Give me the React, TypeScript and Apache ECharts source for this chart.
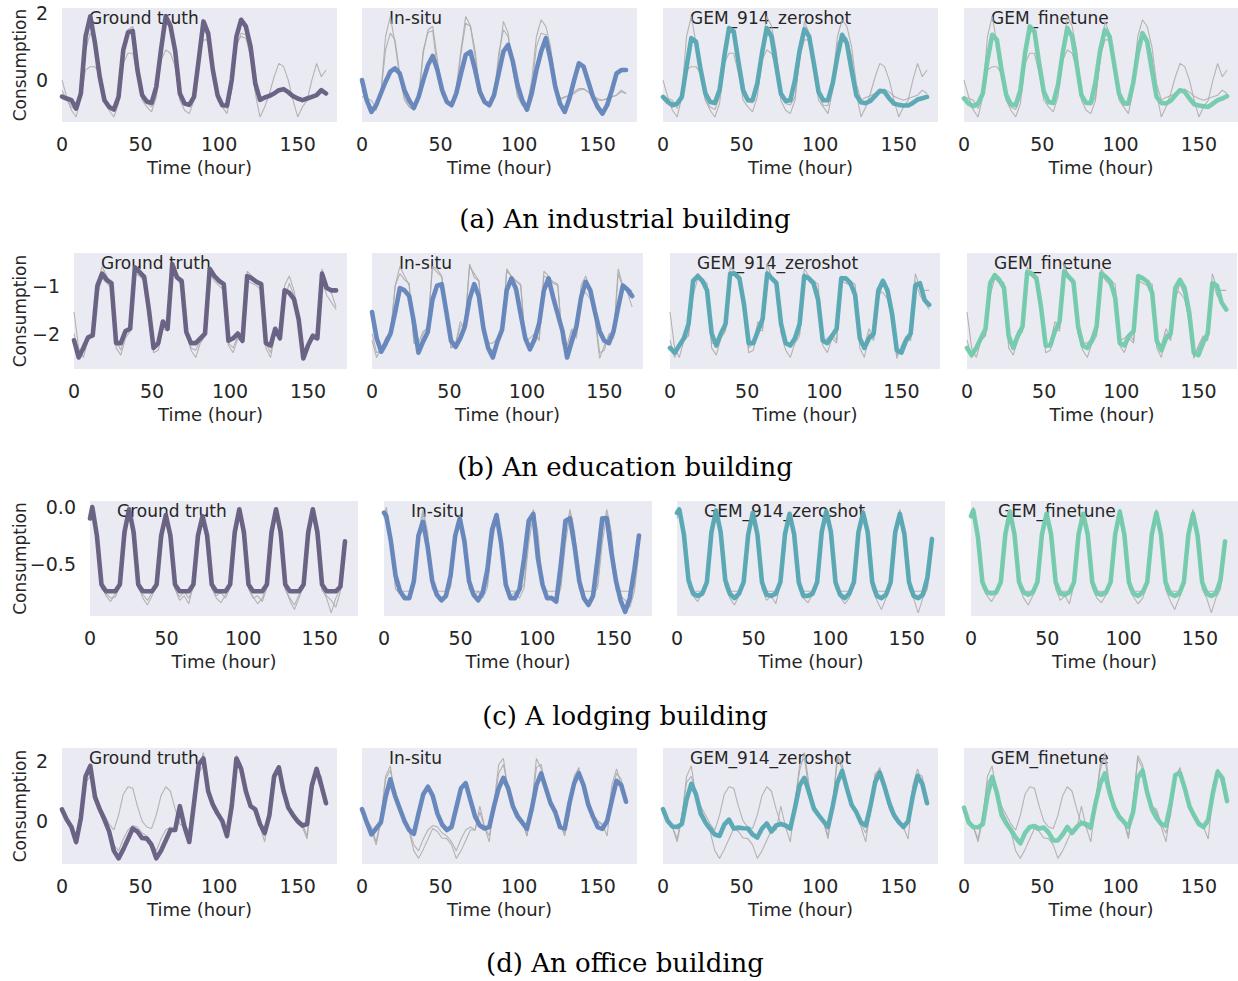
import React, { useEffect, useRef } from "react";
import * as echarts from "echarts";

// ---------- time index (hours) ----------
const HOURS = [0,3,6,9,12,15,18,21,24,27,30,33,36,39,42,45,48,51,54,57,60,63,66,69,72,75,78,81,84,87,90,93,96,99,102,105,108,111,114,117,120,123,126,129,132,135,138,141,144,147,150,153,156,159,162,165,168];
const HOURS_C = [0,1.5,4.5,7.5,10.5,13.5,16.5,19.5,22.5,25.5,28.5,31.5,34.5,37.5,40.5,43.5,46.5,49.5,52.5,55.5,58.5,61.5,64.5,67.5,70.5,73.5,76.5,79.5,82.5,85.5,88.5,91.5,94.5,97.5,100.5,103.5,106.5,109.5,112.5,115.5,118.5,121.5,124.5,127.5,130.5,133.5,136.5,139.5,142.5,145.5,148.5,151.5,154.5,157.5,160.5,163.5,166.5];

// ---------- (a) industrial ----------
const A_GT = [-0.49,-0.55,-0.6,-0.85,-0.4,1.3,1.9,1.1,0.1,-0.6,-0.8,-0.88,-0.5,0.9,1.42,1.47,0.3,-0.45,-0.64,-0.68,-0.2,0.9,1.9,1.62,0.88,-0.4,-0.7,-0.74,-0.5,0.6,1.75,1.4,0.3,-0.45,-0.75,-0.76,0.0,1.3,1.8,1.6,1.0,-0.1,-0.59,-0.52,-0.47,-0.4,-0.3,-0.27,-0.36,-0.48,-0.55,-0.6,-0.55,-0.5,-0.45,-0.3,-0.4];
const A_IN = [0.0,-0.6,-0.95,-0.75,-0.4,-0.05,0.25,0.35,0.2,-0.3,-0.6,-0.83,-0.5,0.0,0.45,0.72,0.3,-0.3,-0.65,-0.75,-0.4,0.2,0.75,0.85,0.3,-0.35,-0.65,-0.75,-0.45,0.2,0.85,1.05,0.55,-0.15,-0.6,-0.88,-0.4,0.3,0.85,1.25,0.6,-0.2,-0.7,-0.95,-0.55,0.0,0.5,0.4,-0.05,-0.5,-0.8,-1.0,-0.75,-0.3,0.2,0.3,0.3];
const A_ZS = [-0.5,-0.65,-0.75,-0.7,-0.5,0.4,1.25,1.15,0.3,-0.4,-0.65,-0.68,-0.3,0.7,1.55,1.45,0.55,-0.3,-0.6,-0.6,-0.1,0.8,1.55,1.3,0.45,-0.4,-0.62,-0.6,0.0,0.9,1.52,1.3,0.5,-0.35,-0.6,-0.6,-0.1,0.7,1.35,1.1,0.3,-0.45,-0.66,-0.69,-0.62,-0.47,-0.32,-0.35,-0.55,-0.7,-0.74,-0.76,-0.76,-0.68,-0.58,-0.54,-0.5];
const A_FT = [-0.55,-0.7,-0.78,-0.7,-0.4,0.6,1.35,1.2,0.3,-0.45,-0.72,-0.75,-0.3,0.8,1.6,1.45,0.5,-0.35,-0.65,-0.68,-0.15,0.8,1.55,1.3,0.45,-0.45,-0.68,-0.68,-0.05,0.9,1.5,1.3,0.45,-0.4,-0.68,-0.7,-0.1,0.8,1.4,1.15,0.3,-0.5,-0.68,-0.7,-0.62,-0.45,-0.3,-0.35,-0.55,-0.72,-0.76,-0.78,-0.8,-0.7,-0.6,-0.55,-0.48];
const A_G1 = [0.0,-0.5,-0.9,-1.1,-0.5,0.3,0.4,0.4,0.2,-0.6,-0.9,-1.1,-0.7,0.5,0.8,0.8,0.2,-0.6,-0.8,-0.95,-0.5,0.6,0.9,0.8,0.4,-0.6,-0.9,-1.0,-0.6,0.7,1.2,1.2,0.3,-0.6,-0.8,-1.0,-0.3,1.1,1.3,1.25,0.7,-0.4,-1.1,-0.8,-0.4,0.1,0.5,0.4,0.0,-0.6,-1.1,-0.8,-0.6,0.0,0.5,0.1,0.3];
const A_G2 = [-0.3,-0.6,-0.8,-0.9,-0.4,0.9,1.4,1.2,0.2,-0.5,-0.8,-0.9,-0.6,0.8,1.5,1.6,0.6,-0.4,-0.7,-0.8,-0.5,0.8,1.7,1.6,0.7,-0.4,-0.7,-0.8,-0.5,0.8,1.5,1.3,0.3,-0.5,-0.75,-0.85,-0.3,1.0,1.4,1.35,0.7,-0.2,-0.55,-0.5,-0.45,-0.35,-0.25,-0.25,-0.35,-0.5,-0.6,-0.6,-0.55,-0.5,-0.45,-0.35,-0.4];

// ---------- (b) education ----------
const B_GT = [-2.14,-2.5,-2.3,-2.08,-2.04,-1.0,-0.75,-0.88,-0.95,-2.2,-2.2,-1.95,-1.9,-0.62,-0.72,-0.82,-1.5,-2.3,-2.2,-1.75,-1.9,-0.55,-0.83,-0.9,-1.97,-2.2,-2.2,-2.1,-2.0,-0.65,-0.8,-0.9,-0.97,-2.15,-2.1,-2.0,-2.15,-0.8,-0.85,-0.92,-0.97,-2.2,-2.25,-1.9,-2.1,-1.1,-1.15,-1.28,-1.7,-2.52,-2.25,-2.05,-2.1,-0.75,-1.05,-1.1,-1.1];
const B_IN = [-1.55,-2.1,-2.38,-2.2,-2.0,-1.55,-1.05,-1.1,-1.22,-1.75,-2.4,-2.17,-1.97,-1.3,-1.0,-0.97,-1.55,-2.15,-2.28,-2.1,-1.85,-1.28,-0.97,-1.22,-1.9,-2.3,-2.5,-2.17,-1.92,-1.1,-0.85,-1.07,-1.6,-2.1,-2.33,-2.12,-1.78,-1.1,-0.85,-1.25,-1.6,-1.95,-2.5,-2.17,-1.85,-1.25,-0.92,-1.1,-1.55,-1.95,-2.15,-2.2,-1.95,-1.45,-1.0,-1.08,-1.22];
const B_ZS = [-2.3,-2.4,-2.25,-2.1,-1.8,-0.9,-0.8,-0.9,-1.1,-2.0,-2.25,-2.0,-1.8,-0.75,-0.75,-0.85,-1.4,-2.2,-2.2,-1.95,-1.7,-0.75,-0.85,-0.95,-1.8,-2.2,-2.25,-2.1,-1.8,-0.8,-0.85,-0.95,-1.3,-2.15,-2.2,-2.05,-1.9,-0.85,-0.85,-0.95,-1.2,-2.1,-2.3,-2.1,-2.0,-1.1,-0.9,-1.1,-1.6,-2.35,-2.4,-2.15,-2.0,-1.0,-0.95,-1.3,-1.4];
const B_FT = [-2.3,-2.45,-2.3,-2.1,-1.9,-0.95,-0.78,-0.88,-1.05,-2.05,-2.3,-2.05,-1.85,-0.72,-0.75,-0.85,-1.45,-2.25,-2.25,-1.95,-1.75,-0.7,-0.82,-0.92,-1.85,-2.25,-2.3,-2.15,-1.85,-0.75,-0.82,-0.92,-1.25,-2.2,-2.25,-2.05,-1.95,-0.8,-0.85,-0.92,-1.15,-2.15,-2.35,-2.1,-2.0,-1.05,-0.88,-1.05,-1.55,-2.4,-2.45,-2.2,-2.0,-0.95,-1.0,-1.35,-1.5];
const B_G1 = [-1.55,-2.3,-2.5,-2.15,-2.05,-1.2,-0.85,-0.95,-1.05,-2.3,-2.45,-2.1,-1.95,-0.75,-0.8,-0.9,-1.6,-2.4,-2.35,-1.9,-1.95,-0.7,-0.85,-1.0,-2.0,-2.35,-2.5,-2.2,-2.05,-0.75,-0.9,-1.0,-1.1,-2.25,-2.4,-2.1,-2.2,-0.9,-0.95,-1.0,-1.1,-2.3,-2.5,-2.0,-2.15,-1.3,-0.95,-1.2,-1.8,-2.45,-2.3,-2.1,-2.15,-0.9,-1.2,-1.35,-1.5];
const B_G2 = [-2.0,-2.4,-2.35,-2.1,-1.95,-1.0,-0.6,-0.8,-1.0,-2.15,-2.35,-2.0,-1.85,-0.6,-0.65,-0.8,-1.5,-2.3,-2.25,-1.85,-1.8,-0.6,-0.75,-0.9,-1.9,-2.3,-2.35,-2.15,-1.95,-0.7,-0.8,-0.9,-1.0,-2.2,-2.3,-2.05,-2.1,-0.7,-0.8,-0.95,-1.0,-2.2,-2.4,-1.95,-2.05,-1.0,-0.8,-1.1,-1.6,-2.4,-2.35,-2.0,-2.05,-0.65,-1.0,-1.15,-1.45];

// ---------- (c) lodging ----------
const C_GT = [-0.1,0.0,-0.25,-0.68,-0.74,-0.74,-0.74,-0.68,-0.22,-0.02,-0.22,-0.68,-0.74,-0.74,-0.74,-0.68,-0.25,-0.07,-0.25,-0.68,-0.74,-0.74,-0.74,-0.68,-0.25,-0.08,-0.25,-0.68,-0.74,-0.74,-0.74,-0.68,-0.22,-0.02,-0.22,-0.68,-0.74,-0.74,-0.74,-0.68,-0.22,-0.02,-0.22,-0.68,-0.74,-0.74,-0.74,-0.68,-0.22,-0.02,-0.22,-0.68,-0.74,-0.74,-0.74,-0.7,-0.3];
const C_IN = [-0.05,-0.08,-0.3,-0.6,-0.74,-0.8,-0.8,-0.65,-0.25,-0.13,-0.35,-0.65,-0.77,-0.82,-0.78,-0.6,-0.25,-0.1,-0.3,-0.65,-0.77,-0.82,-0.75,-0.55,-0.2,-0.07,-0.32,-0.68,-0.8,-0.8,-0.72,-0.45,-0.12,-0.06,-0.45,-0.68,-0.8,-0.8,-0.83,-0.5,-0.12,-0.1,-0.35,-0.65,-0.8,-0.86,-0.78,-0.45,-0.1,-0.1,-0.4,-0.65,-0.82,-0.92,-0.8,-0.55,-0.25];
const C_ZS = [-0.05,-0.02,-0.24,-0.64,-0.76,-0.78,-0.76,-0.66,-0.22,-0.03,-0.22,-0.64,-0.76,-0.8,-0.76,-0.66,-0.24,-0.05,-0.24,-0.66,-0.77,-0.78,-0.76,-0.66,-0.24,-0.06,-0.24,-0.66,-0.78,-0.78,-0.76,-0.66,-0.22,-0.04,-0.22,-0.66,-0.77,-0.8,-0.76,-0.66,-0.22,-0.05,-0.22,-0.66,-0.78,-0.8,-0.77,-0.66,-0.22,-0.06,-0.24,-0.66,-0.78,-0.8,-0.77,-0.62,-0.28];
const C_FT = [-0.08,-0.03,-0.26,-0.66,-0.75,-0.76,-0.75,-0.66,-0.24,-0.04,-0.24,-0.66,-0.75,-0.77,-0.75,-0.66,-0.24,-0.06,-0.24,-0.66,-0.76,-0.77,-0.75,-0.66,-0.24,-0.06,-0.24,-0.66,-0.76,-0.77,-0.75,-0.66,-0.24,-0.04,-0.24,-0.66,-0.76,-0.78,-0.75,-0.66,-0.24,-0.05,-0.24,-0.66,-0.76,-0.78,-0.76,-0.66,-0.24,-0.06,-0.25,-0.66,-0.76,-0.78,-0.76,-0.64,-0.3];
const C_G1 = [-0.05,-0.02,-0.28,-0.7,-0.78,-0.83,-0.76,-0.68,-0.28,-0.04,-0.28,-0.7,-0.8,-0.86,-0.78,-0.68,-0.3,-0.06,-0.3,-0.72,-0.82,-0.78,-0.85,-0.68,-0.3,-0.07,-0.3,-0.71,-0.8,-0.84,-0.77,-0.68,-0.28,-0.03,-0.28,-0.71,-0.79,-0.85,-0.8,-0.68,-0.28,-0.04,-0.28,-0.72,-0.82,-0.9,-0.8,-0.68,-0.28,-0.04,-0.28,-0.72,-0.8,-0.93,-0.8,-0.72,-0.35];
const C_G2 = [-0.08,-0.04,-0.32,-0.72,-0.76,-0.8,-0.79,-0.7,-0.32,-0.05,-0.32,-0.72,-0.77,-0.82,-0.75,-0.71,-0.33,-0.09,-0.33,-0.72,-0.79,-0.74,-0.8,-0.71,-0.33,-0.1,-0.33,-0.72,-0.78,-0.75,-0.8,-0.71,-0.32,-0.06,-0.32,-0.72,-0.8,-0.78,-0.83,-0.71,-0.32,-0.06,-0.32,-0.72,-0.8,-0.86,-0.77,-0.71,-0.32,-0.06,-0.32,-0.73,-0.78,-0.82,-0.88,-0.74,-0.4];

// ---------- (d) office ----------
const D_GT = [0.39,0.05,-0.2,-0.7,0.1,1.5,1.85,0.8,0.4,0.05,-0.35,-1.0,-1.25,-0.95,-0.6,-0.25,-0.35,-0.57,-0.59,-0.8,-1.25,-1.0,-0.65,-0.3,-0.3,0.5,-0.2,-0.7,0.6,1.9,2.1,1.0,0.55,0.25,0.0,-0.5,0.5,2.1,1.75,1.0,0.5,0.39,-0.1,-0.4,0.2,1.5,1.8,1.0,0.45,0.2,0.0,-0.15,-0.1,1.2,1.75,1.2,0.6];
const D_IN = [0.4,-0.04,-0.45,-0.25,-0.05,0.8,1.4,0.85,0.42,0.0,-0.3,-0.43,0.25,0.9,1.15,0.85,0.25,-0.12,-0.3,-0.2,0.45,1.1,1.27,0.7,0.15,-0.15,-0.25,-0.2,0.5,1.1,1.45,1.1,0.5,0.15,-0.05,-0.26,0.4,1.2,1.6,1.1,0.6,0.3,-0.2,-0.25,0.6,1.27,1.6,1.2,0.55,0.15,-0.2,-0.26,0.0,0.7,1.35,1.2,0.65];
const D_ZS = [0.4,0.0,-0.18,-0.2,-0.1,0.72,1.25,0.9,0.25,-0.05,-0.26,-0.45,-0.5,-0.12,0.05,-0.25,-0.22,-0.24,-0.25,-0.45,-0.55,-0.25,-0.08,-0.35,-0.15,-0.1,-0.15,-0.25,0.45,1.2,1.45,0.95,0.42,0.2,0.0,-0.2,0.5,1.3,1.68,1.1,0.55,0.3,-0.05,-0.15,0.5,1.3,1.62,1.15,0.6,0.2,-0.03,-0.2,0.0,0.85,1.5,1.25,0.6];
const D_FT = [0.45,-0.05,-0.2,-0.21,-0.1,0.85,1.48,0.95,0.2,-0.08,-0.3,-0.55,-0.75,-0.4,-0.2,-0.17,-0.25,-0.22,-0.38,-0.65,-0.65,-0.45,-0.2,-0.4,-0.2,-0.06,-0.1,-0.2,0.6,1.25,1.6,0.95,0.45,0.15,-0.02,-0.2,0.3,1.45,1.7,0.95,0.4,0.1,-0.1,-0.15,0.6,1.55,1.6,1.1,0.5,0.18,-0.1,-0.2,0.05,0.95,1.65,1.45,0.67];
const D_G1 = [0.3,0.0,-0.2,-0.6,0.2,1.3,1.5,0.9,0.5,0.2,-0.1,-0.3,0.2,0.9,1.15,1.1,0.5,0.0,-0.2,-0.25,0.2,0.85,1.15,1.0,0.4,-0.1,-0.2,-0.3,0.7,1.7,2.3,1.2,0.5,0.2,0.0,-0.6,0.6,2.2,1.9,1.1,0.5,0.3,-0.2,-0.7,0.4,1.6,1.7,1.1,0.4,0.1,-0.1,-0.2,-0.6,1.0,1.6,1.5,0.6];
const D_G2 = [0.35,0.0,-0.3,-0.8,0.0,1.4,1.7,1.0,0.5,0.1,-0.3,-0.8,-1.0,-0.6,-0.3,-0.15,-0.2,-0.4,-0.5,-0.7,-1.0,-0.6,-0.3,-0.2,-0.3,0.3,-0.2,-0.5,0.5,1.6,1.9,1.1,0.5,0.3,0.0,-0.5,0.4,1.8,1.9,1.1,0.6,0.3,-0.1,-0.5,0.3,1.4,1.7,1.1,0.5,0.2,0.0,-0.1,-0.5,1.0,1.6,1.4,0.7];

const PANEL_NAMES = ["Ground truth", "In-situ", "GEM_914_zeroshot", "GEM_finetune"];
const CAPTIONS = [
  "(a) An industrial building",
  "(b) An education building",
  "(c) A lodging building",
  "(d) An office building",
];
const Y_TICKS = [[0, 2], [-2, -1], [-0.5, 0.0], [0, 2]];

// which data go in which row
const ROW_DATA = [
  { hours: HOURS, gt: A_GT, ins: A_IN, zs: A_ZS, ft: A_FT, g1: A_G1, g2: A_G2 },
  { hours: HOURS, gt: B_GT, ins: B_IN, zs: B_ZS, ft: B_FT, g1: B_G1, g2: B_G2 },
  { hours: HOURS_C, gt: C_GT, ins: C_IN, zs: C_ZS, ft: C_FT, g1: C_G1, g2: C_G2 },
  { hours: HOURS, gt: D_GT, ins: D_IN, zs: D_ZS, ft: D_FT, g1: D_G1, g2: D_G2 },
];

// ---------- layout / style ----------
const LAYOUT = [
  { top: 8, height: 114, lefts: [62, 362, 663, 964], widths: [275, 275, 275, 274], ymin: -1.25, ymax: 2.15, dec: 0, capY: 219 },
  { top: 253, height: 116, lefts: [74, 372, 670, 967], widths: [273, 271, 270, 270], ymin: -2.74, ymax: -0.32, dec: 0, capY: 467 },
  { top: 501, height: 115, lefts: [90, 384, 677, 971], widths: [268, 268, 268, 267], ymin: -0.957, ymax: 0.053, dec: 1, capY: 716 },
  { top: 748, height: 116, lefts: [62, 362, 663, 964], widths: [275, 275, 275, 274], ymin: -1.44, ymax: 2.45, dec: 0, capY: 963 },
];
const COLORS = ["#655d80", "#6283b9", "#55a7b3", "#72caab"];
const GRAY = "#a9a9a9";
const TXT = "#262626";
const SANS = "DejaVu Sans";

function fmtTick(v: number, dec: number) {
  const s = Math.abs(v).toFixed(dec);
  return v < 0 ? "\u2212" + s : s;
}

export default function App() {
  const ref = useRef<HTMLDivElement>(null);
  useEffect(() => {
    document.body.style.margin = "0";
    if (!ref.current) return;
    const chart = echarts.init(ref.current, undefined, { renderer: "svg" });
    const grids: any[] = [];
    const xAxes: any[] = [];
    const yAxes: any[] = [];
    const series: any[] = [];
    const graphics: any[] = [];

    ROW_DATA.forEach((rd, r) => {
      const L = LAYOUT[r];
      const colored = [rd.gt, rd.ins, rd.zs, rd.ft];
      const grays = [[rd.g1, rd.g2], [rd.gt, rd.g2], [rd.gt, rd.g1], [rd.gt, rd.g1]];
      for (let c = 0; c < 4; c++) {
        const idx = grids.length;
        grids.push({
          left: L.lefts[c], top: L.top, width: L.widths[c], height: L.height,
          show: true, backgroundColor: "#eaeaf2", borderWidth: 0, containLabel: false,
        });
        xAxes.push({
          type: "value", gridIndex: idx, min: 0, max: 175, interval: 50,
          axisLine: { show: false }, axisTick: { show: false }, splitLine: { show: false },
          axisLabel: { color: TXT, fontSize: 19, fontFamily: SANS, margin: 12, showMaxLabel: false },
        });
        yAxes.push({
          type: "value", gridIndex: idx, min: L.ymin, max: L.ymax,
          axisLine: { show: false }, axisTick: { show: false }, splitLine: { show: false },
          axisLabel: c === 0
            ? { show: true, customValues: Y_TICKS[r], color: TXT, fontSize: 19, fontFamily: SANS, margin: 14,
                formatter: (v: number) => fmtTick(v, L.dec) }
            : { show: false },
        });
        grays[c].forEach((g) => {
          series.push({
            type: "line", xAxisIndex: idx, yAxisIndex: idx, symbol: "none", silent: true,
            data: rd.hours.map((h, i) => [h, g[i]]),
            lineStyle: { color: GRAY, width: 1.1, opacity: 0.85 },
          });
        });
        series.push({
          type: "line", xAxisIndex: idx, yAxisIndex: idx, symbol: "none", silent: true,
          data: rd.hours.map((h, i) => [h, colored[c][i]]),
          lineStyle: { color: COLORS[c], width: 4.6, opacity: 0.95, cap: "round", join: "round" },
        });
        graphics.push({
          type: "text", left: L.lefts[c] + 27, top: L.top + 1,
          style: { text: PANEL_NAMES[c], fill: TXT, font: `17px "${SANS}"` },
        });
        graphics.push({
          type: "text", x: L.lefts[c] + L.widths[c] / 2, y: L.top + L.height + 45,
          style: { text: "Time (hour)", fill: TXT, font: `18px "${SANS}"`, textAlign: "center", textVerticalAlign: "middle" },
        });
      }
      graphics.push({
        type: "text", x: 20, y: L.top + L.height / 2, rotation: Math.PI / 2,
        style: { text: "Consumption", fill: TXT, font: `17px "${SANS}"`, textAlign: "center", textVerticalAlign: "middle" },
      });
      graphics.push({
        type: "text", x: 625, y: L.capY,
        style: { text: CAPTIONS[r], fill: "#000", font: `26px "DejaVu Serif"`, textAlign: "center", textVerticalAlign: "middle" },
      });
    });

    chart.setOption({
      animation: false,
      backgroundColor: "#ffffff",
      grid: grids,
      xAxis: xAxes,
      yAxis: yAxes,
      series,
      graphic: graphics,
    });
    return () => chart.dispose();
  }, []);
  return <div ref={ref} style={{ width: 1238, height: 981 }} />;
}
